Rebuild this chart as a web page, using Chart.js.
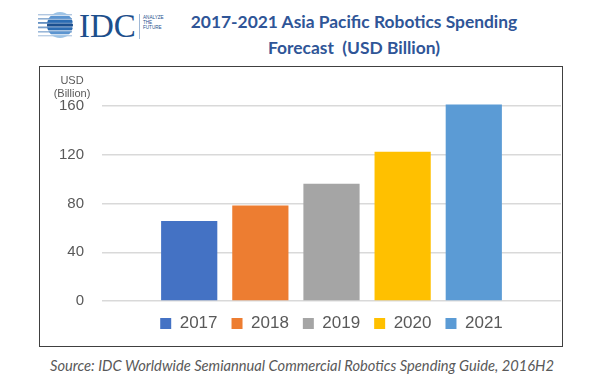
<!DOCTYPE html>
<html>
<head>
<meta charset="utf-8">
<script src="https://cdn.jsdelivr.net/npm/chart.js@4.4.1/dist/chart.umd.min.js"></script>
<style>
  body { margin: 0; background: #fff; width: 600px; height: 378px; position: relative; overflow: hidden; font-family: "Liberation Sans", Arial, sans-serif; }
  #logo { position: absolute; left: 35px; top: 7px; }
  #title { position: absolute; left: 154px; width: 400px; top: 9px; text-align: center; font-family: Lato, "Open Sans", sans-serif; font-weight: bold; font-size: 17.4px; line-height: 26px; color: #2F5597; }
  #frame { position: absolute; left: 39px; top: 66px; width: 522px; height: 279px; border: 1.5px solid #404040; }
  #chart-wrap { position: absolute; left: 0; top: 0; width: 522px; height: 279px; }
  #unit { position: absolute; left: 12px; top: 7px; width: 40px; text-align: center; font-size: 11px; line-height: 13px; color: #595959; }
  #source { position: absolute; left: 2px; width: 600px; top: 356px; text-align: center; font-family: Lato, "Open Sans", sans-serif; font-style: italic; font-size: 14.7px; color: #595959; }
</style>
</head>
<body>
<svg id="logo" width="140" height="38" viewBox="0 0 140 38">
  <defs>
    <clipPath id="globe"><circle cx="25" cy="18" r="13"/></clipPath>
  </defs>
  <g fill="#1f5fa8">
    <rect x="3" y="7" width="34" height="1.4" opacity="0.35"/>
    <rect x="3" y="11" width="34" height="1.6" opacity="0.5"/>
    <rect x="3" y="15" width="34" height="1.8" opacity="0.7"/>
    <rect x="3" y="19.5" width="34" height="1.8" opacity="0.6"/>
    <rect x="3" y="24" width="34" height="1.6" opacity="0.45"/>
    <rect x="3" y="28" width="34" height="1.4" opacity="0.3"/>
    <g clip-path="url(#globe)">
      <rect x="10" y="5" width="32" height="2.8" fill="#9cc3e6"/>
      <rect x="10" y="8.9" width="32" height="2.8" fill="#5c95d0"/>
      <rect x="10" y="12.8" width="32" height="2.8" fill="#2b6cb3"/>
      <rect x="10" y="16.7" width="32" height="2.8" fill="#1b4f8f"/>
      <rect x="10" y="20.6" width="32" height="2.8" fill="#2b6cb3"/>
      <rect x="10" y="24.5" width="32" height="2.8" fill="#5c95d0"/>
      <rect x="10" y="28.4" width="32" height="2.8" fill="#9cc3e6"/>
    </g>
  </g>
  <text x="44" y="30" font-family="Liberation Serif, DejaVu Serif, serif" font-size="33" fill="#1d4f8c">IDC</text>
  <rect x="104" y="7" width="0.8" height="25" fill="#8aa8cc"/>
  <text x="108" y="12" font-family="Liberation Sans, sans-serif" font-size="4.6" fill="#1d4f8c">ANALYZE</text>
  <text x="108" y="17" font-family="Liberation Sans, sans-serif" font-size="4.6" fill="#1d4f8c">THE</text>
  <text x="108" y="22" font-family="Liberation Sans, sans-serif" font-size="4.6" fill="#1d4f8c">FUTURE</text>
</svg>
<div id="title">2017-2021 Asia Pacific Robotics Spending<br>Forecast&nbsp; (USD Billion)</div>
<div id="frame">
  <div id="chart-wrap"><canvas id="chart-robotics-spending"></canvas></div>
  <div id="unit">USD<br>(Billion)</div>
</div>
<div id="source">Source: IDC Worldwide Semiannual Commercial Robotics Spending Guide, 2016H2</div>
<script>
// data
const years = ["2017", "2018", "2019", "2020", "2021"];
const spending = [65.6, 78.5, 96.3, 122.6, 161.4];
const barColors = ["#4472C4", "#ED7D31", "#A5A5A5", "#FFC000", "#5B9BD5"];
const yTicks = [0, 40, 80, 120, 160];

// one category, one dataset per year so each year gets its own legend entry
const datasets = years.map((year, i) => ({
  label: year,
  data: [spending[i]],
  backgroundColor: barColors[i],
  borderColor: barColors[i],
  borderWidth: 0,
  barPercentage: 0.79,
  categoryPercentage: 0.775,
}));

const ctx = document.getElementById("chart-robotics-spending").getContext("2d");
new Chart(ctx, {
  type: "bar",
  data: { labels: [""], datasets: datasets },
  options: {
    responsive: true,
    maintainAspectRatio: false,
    animation: false,
    layout: { padding: { top: 26, right: 1, bottom: 4, left: 0 } },
    plugins: {
      legend: {
        position: "bottom",
        fullSize: false,
        labels: {
          boxWidth: 11,
          boxHeight: 11,
          padding: 14,
          color: "#595959",
          font: { family: "'Liberation Sans', Arial, sans-serif", size: 17 },
        },
      },
      tooltip: { enabled: false },
    },
    scales: {
      x: { display: false },
      y: {
        min: 0,
        max: 170,
        afterFit: (axis) => { axis.width = 62; },
        afterBuildTicks: (axis) => { axis.ticks = yTicks.map((v) => ({ value: v })); },
        ticks: {
          padding: 18,
          color: "#595959",
          font: { family: "'Liberation Sans', Arial, sans-serif", size: 15 },
        },
        grid: { color: "#d9d9d9", lineWidth: 1.5, drawTicks: false },
        border: { display: false },
      },
    },
  },
});
</script>
</body>
</html>
